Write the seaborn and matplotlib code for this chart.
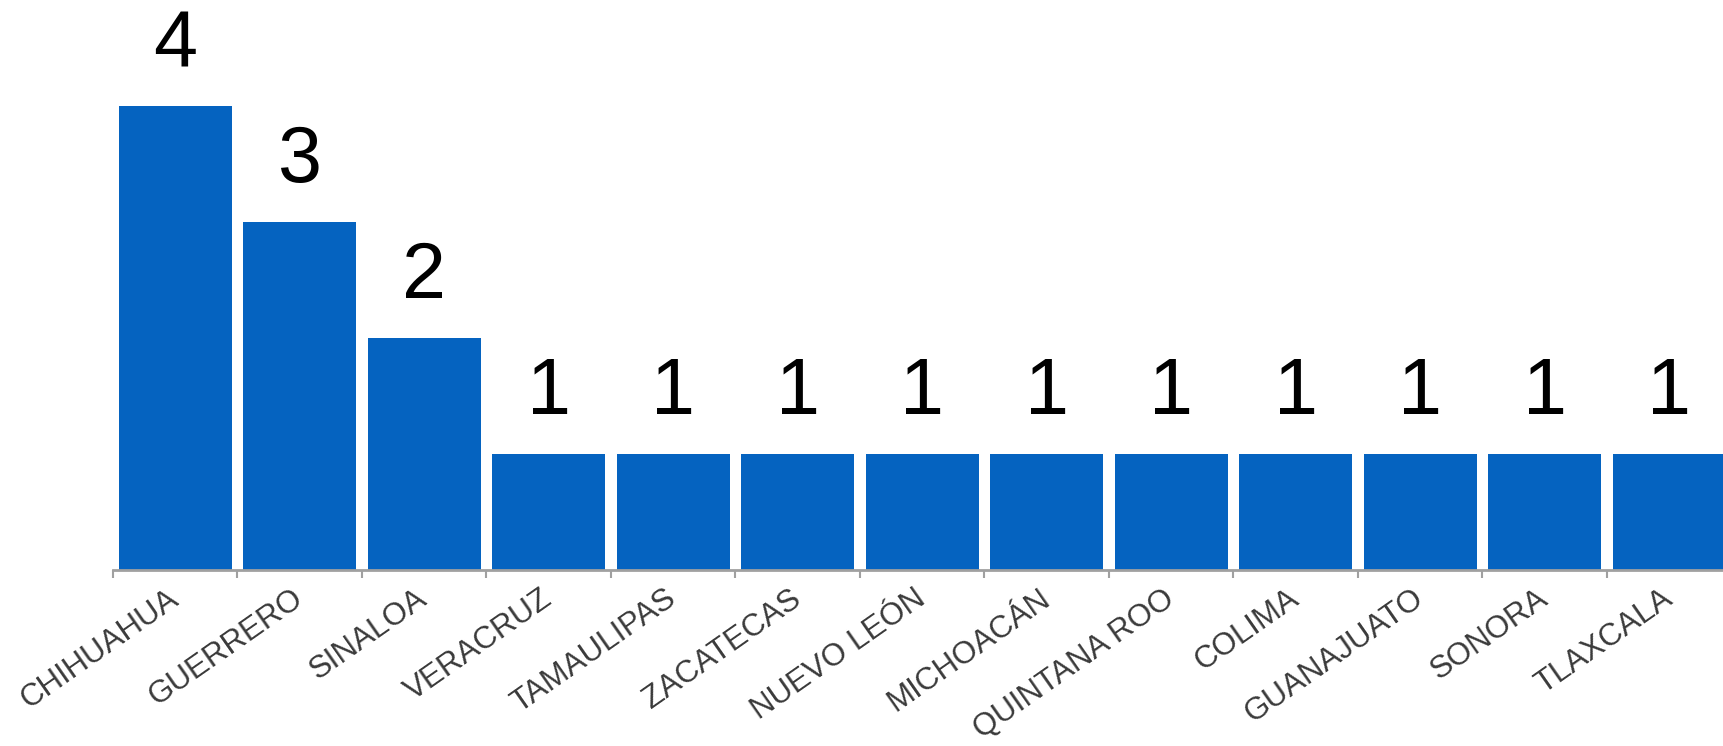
import matplotlib
matplotlib.use("Agg")
import matplotlib.pyplot as plt
import seaborn as sns
import pandas as pd
from matplotlib.ticker import FixedLocator

states = ["CHIHUAHUA", "GUERRERO", "SINALOA", "VERACRUZ", "TAMAULIPAS", "ZACATECAS",
          "NUEVO LEÓN", "MICHOACÁN", "QUINTANA ROO", "COLIMA", "GUANAJUATO", "SONORA", "TLAXCALA"]
values = [4, 3, 2, 1, 1, 1, 1, 1, 1, 1, 1, 1, 1]

df = pd.DataFrame({"estado": states, "valor": values})

sns.set_style("white")
plt.rcParams["font.family"] = ["Liberation Sans", "DejaVu Sans"]

W, H = 1724, 746
fig = plt.figure(figsize=(W / 100, H / 100), dpi=100)
x0, y_axis = 113, 569.5
ax = fig.add_axes([x0 / W, (H - y_axis) / H, (W - x0) / W, y_axis / H])

sns.barplot(data=df, x="estado", y="valor", color="#0563C0", saturation=1,
            width=0.91, ax=ax, linewidth=0)

pitch = 124.5
ax.set_xlim(-0.5, -0.5 + (W - x0) / pitch)
ax.set_ylim(0, y_axis / 116.0)

ax.bar_label(ax.containers[0], padding=16, fontsize=57, color="black")

for s in ["top", "right", "left"]:
    ax.spines[s].set_visible(False)
ax.spines["bottom"].set_color("#a0a0a0")
ax.spines["bottom"].set_linewidth(2)

ax.set_yticks([])
ax.set_xlabel("")
ax.set_ylabel("")

ax.xaxis.set_minor_locator(FixedLocator([i - 0.5 for i in range(len(states) + 1)]))
ax.tick_params(axis="x", which="minor", length=6, width=1.5, color="#a0a0a0", bottom=True)
ax.tick_params(axis="x", which="major", length=0, pad=19, labelsize=22.5, labelcolor="#3a3a3a")
for lbl in ax.get_xticklabels():
    lbl.set_rotation(35)
    lbl.set_ha("right")
    lbl.set_va("center")
    lbl.set_rotation_mode("anchor")

fig.savefig("out.png", dpi=100)
